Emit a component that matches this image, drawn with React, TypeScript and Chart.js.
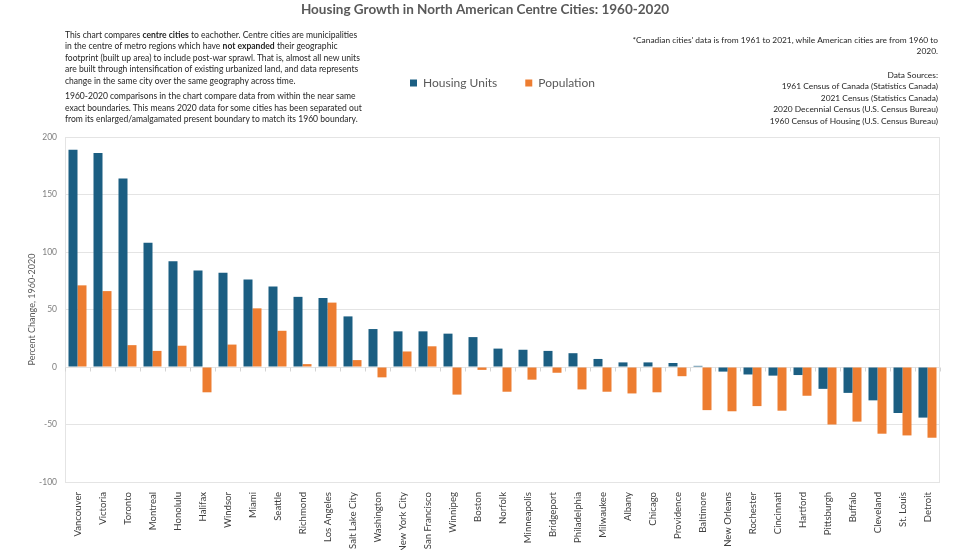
import React, { useEffect, useRef } from "react";
import { Chart, registerables } from "chart.js";

Chart.register(...registerables);

const chartTitle = "Housing Growth in North American Centre Cities: 1960-2020";
const yAxisTitle = "Percent Change, 1960-2020";

const cities = [
  "Vancouver", "Victoria", "Toronto", "Montreal", "Honolulu", "Halifax", "Windsor",
  "Miami", "Seattle", "Richmond", "Los Angeles", "Salt Lake City", "Washington",
  "New York City", "San Francisco", "Winnipeg", "Boston", "Norfolk", "Minneapolis",
  "Bridgeport", "Philadelphia", "Milwaukee", "Albany", "Chicago", "Providence",
  "Baltimore", "New Orleans", "Rochester", "Cincinnati", "Hartford", "Pittsburgh",
  "Buffalo", "Cleveland", "St. Louis", "Detroit",
];

const housingUnits = [
  189, 186, 164, 108, 92, 84, 82,
  76, 70, 61, 60, 44, 33,
  31, 31, 29, 26, 16, 15,
  14, 12, 7, 4, 4, 3.5,
  1, -4, -6.5, -7.5, -7, -19,
  -22.5, -29, -40, -44,
];

const population = [
  71, 66, 19, 14, 18.5, -22, 19.5,
  51, 31.5, 2.5, 56, 6, -9,
  13.5, 18, -24, -2.5, -21.5, -11,
  -5, -19.5, -21.5, -23, -22, -8,
  -37.5, -38.5, -34, -38, -25, -50,
  -47.5, -58, -59.5, -61.5,
];

const yMin = -100;
const yMax = 200;
const yStep = 50;

const leftNoteLines: React.ReactNode[] = [
  <>This chart compares <b>centre cities</b> to eachother. Centre cities are municipalities</>,
  <>in the centre of metro regions which have <b>not expanded</b> their geographic</>,
  <>footprint (built up area) to include post-war sprawl. That is, almost all new units</>,
  <>are built through intensification of existing urbanized land, and data represents</>,
  <>change in the same city over the same geography across time.</>,
];
const leftNoteLines2 = [
  "1960-2020 comparisons in the chart compare data from within the near same",
  "exact boundaries. This means 2020 data for some cities has been separated out",
  "from its enlarged/amalgamated present boundary to match its 1960 boundary.",
];
const rightNoteLines = [
  "*Canadian cities' data is from 1961 to 2021, while American cities are from 1960 to",
  "2020.",
];
const sourceLines = [
  "Data Sources:",
  "1961 Census of Canada (Statistics Canada)",
  "2021 Census (Statistics Canada)",
  "2020 Decennial Census (U.S. Census Bureau)",
  "1960 Census of Housing (U.S. Census Bureau)",
];

const BLUE = "#1B5E82";
const ORANGE = "#ED7D31";
const GRID = "#e4e4e4";
const FONT = "Lato, 'Open Sans', sans-serif";

const framePlugin = {
  id: "frame",
  beforeDatasetsDraw(chart: any) {
    const { ctx, chartArea: a, scales } = chart;
    ctx.save();
    ctx.strokeStyle = GRID;
    ctx.lineWidth = 1;
    ctx.strokeRect(Math.round(a.left) + 0.5, Math.round(a.top) + 0.5, Math.round(a.right - a.left) - 1, Math.round(a.bottom - a.top));
    const xs = scales.x;
    const y0 = Math.round(scales.y.getPixelForValue(0)) + 0.5;
    ctx.strokeStyle = "#d4d4d4";
    ctx.beginPath();
    for (let i = 0; i <= cities.length; i++) {
      const px = Math.round(xs.getPixelForValue(i - 0.5)) + 0.5;
      ctx.moveTo(px, y0);
      ctx.lineTo(px, y0 + 4);
    }
    ctx.stroke();
    ctx.restore();
  },
};

export default function App() {
  const canvasRef = useRef<HTMLCanvasElement | null>(null);

  useEffect(() => {
    if (!canvasRef.current) return;
    const chart = new Chart(canvasRef.current, {
      type: "bar",
      data: {
        labels: cities,
        datasets: [
          { label: "Housing Units", data: housingUnits, backgroundColor: BLUE, borderWidth: 0 },
          { label: "Population", data: population, backgroundColor: ORANGE, borderWidth: 0 },
        ],
      },
      options: {
        animation: false,
        responsive: true,
        maintainAspectRatio: false,
        devicePixelRatio: 1,
        layout: { padding: { left: 0, right: 0, top: 0, bottom: 0 } },
        datasets: { bar: { categoryPercentage: 0.72, barPercentage: 1.0 } },
        plugins: {
          title: {
            display: true,
            text: chartTitle,
            color: "#595959",
            font: { family: FONT, size: 13.5, weight: "bold" },
            padding: { top: 2, bottom: 30.8 },
          },
          legend: {
            display: true,
            position: "top",
            fullSize: false,
            labels: {
              boxWidth: 7,
              boxHeight: 7,
              padding: 28,
              color: "#595959",
              font: { family: FONT, size: 12 },
            },
          },
          subtitle: {
            display: true,
            text: "",
            weight: 500,
            font: { size: 1 },
            padding: { top: 0, bottom: 36.8 },
          },
          tooltip: { enabled: false },
        },
        scales: {
          x: {
            grid: { display: false },
            border: { display: false },
            ticks: {
              autoSkip: false,
              minRotation: 90,
              maxRotation: 90,
              padding: 2,
              color: "#404040",
              font: { family: FONT, size: 9.6 },
            },
            afterFit: (s: any) => {
              s.height = 68;
            },
          },
          y: {
            min: yMin,
            max: yMax,
            ticks: {
              stepSize: yStep,
              padding: 8,
              color: "#7f7f7f",
              font: { family: FONT, size: 8.5 },
            },
            grid: { color: GRID, drawTicks: false },
            border: { color: GRID },
            title: {
              display: true,
              text: yAxisTitle,
              color: "#595959",
              font: { family: FONT, size: 9 },
              padding: { top: 27, bottom: 0 },
            },
            afterFit: (s: any) => {
              s.width = 65;
            },
          },
          spacerRight: {
            type: "linear",
            position: "right",
            display: true,
            grid: { display: false, drawTicks: false },
            border: { display: false },
            ticks: { display: false },
            afterFit: (s: any) => {
              s.width = 30;
            },
          },
        },
      },
      plugins: [framePlugin],
    });
    return () => chart.destroy();
  }, []);

  const noteStyle: React.CSSProperties = {
    position: "absolute",
    fontFamily: FONT,
    lineHeight: "11.65px",
    color: "#262626",
    whiteSpace: "nowrap",
  };

  return (
    <div style={{ position: "absolute", left: 0, top: 0, width: 970, height: 556, overflow: "hidden", background: "#fff" }}>
      <div style={{ position: "absolute", left: 0, top: 0, width: 970, height: 550 }}>
        <canvas ref={canvasRef} />
      </div>
      <div style={{ ...noteStyle, fontSize: 8.55, left: 65, top: 29.5 }}>
        {leftNoteLines.map((l, i) => (
          <div key={i}>{l}</div>
        ))}
        <div style={{ height: 3.4 }} />
        {leftNoteLines2.map((l, i) => (
          <div key={i}>{l}</div>
        ))}
      </div>
      <div style={{ ...noteStyle, fontSize: 8.4, right: 32, top: 34.5, textAlign: "right" }}>
        {rightNoteLines.map((l, i) => (
          <div key={i}>{l}</div>
        ))}
      </div>
      <div style={{ ...noteStyle, fontSize: 8.4, right: 32, top: 69.5, textAlign: "right" }}>
        {sourceLines.map((l, i) => (
          <div key={i}>{l}</div>
        ))}
      </div>
    </div>
  );
}
